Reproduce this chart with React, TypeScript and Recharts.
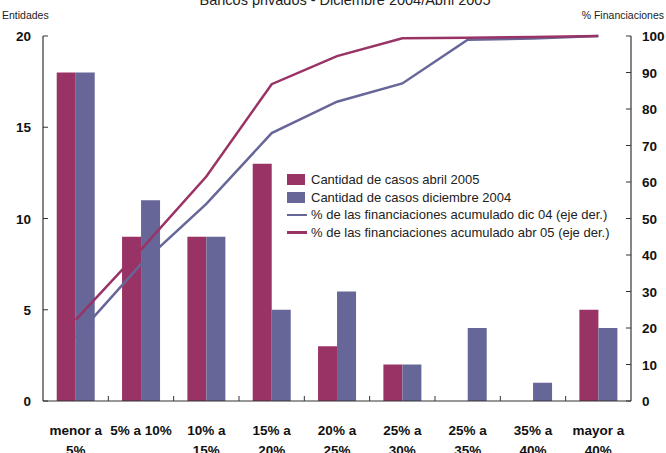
import React from 'react';
import { ComposedChart, Bar, Line, XAxis, YAxis } from 'recharts';

const CATEGORIES = [
  'menor a\n5%',
  '5% a 10%',
  '10% a\n15%',
  '15% a\n20%',
  '20% a\n25%',
  '25% a\n30%',
  '25% a\n35%',
  '35% a\n40%',
  'mayor a\n40%',
];
const CASOS_ABR05 = [18, 9, 9, 13, 3, 2, 0, 0, 5];
const CASOS_DIC04 = [18, 11, 9, 5, 6, 2, 4, 1, 4];
const ACUM_DIC04 = [17.5, 37.5, 54, 73.4, 82, 87, 99, 99.3, 100];
const ACUM_ABR05 = [22.2, 41.5, 61.5, 86.8, 94.5, 99.4, 99.5, 99.7, 100];
const LEFT_TICKS = [0, 5, 10, 15, 20];
const RIGHT_TICKS = [0, 10, 20, 30, 40, 50, 60, 70, 80, 90, 100];

const NAME_ABR = 'Cantidad de casos abril 2005';
const NAME_DIC = 'Cantidad de casos diciembre 2004';
const NAME_ACUM_DIC = '% de las financiaciones acumulado dic 04 (eje der.)';
const NAME_ACUM_ABR = '% de las financiaciones acumulado abr 05 (eje der.)';

const data = CATEGORIES.map((cat, i) => ({
  cat,
  abr: CASOS_ABR05[i],
  dic: CASOS_DIC04[i],
  acumDic: ACUM_DIC04[i],
  acumAbr: ACUM_ABR05[i],
}));

const RED = '#993366';
const BLUE = '#666699';
const AXIS = '#333';
const W = 666;
const H = 453;
const LEFT_W = 43;
const RIGHT_W = 35;
const HALF_BAND = (W - LEFT_W - RIGHT_W) / CATEGORIES.length / 2;

const tickFont = { fontFamily: 'Liberation Sans, Arial, sans-serif', fontSize: 13.5, fontWeight: 700, fill: '#111' };

const LeftTick = (props: any) => {
  const { x, y, payload } = props;
  return (
    <g>
      <line x1={x} y1={y} x2={x + 5} y2={y} stroke={AXIS} />
      <text x={x - 12} y={y + 5} textAnchor="end" {...tickFont}>{payload.value}</text>
    </g>
  );
};

const RightTick = (props: any) => {
  const { x, y, payload } = props;
  return (
    <g>
      <line x1={x - 5} y1={y} x2={x} y2={y} stroke={AXIS} />
      <text x={x + 11} y={y + 5} textAnchor="start" {...tickFont}>{payload.value}</text>
    </g>
  );
};

const BottomTick = (props: any) => {
  const { x, y, payload, index } = props;
  const lines = String(payload.value).split('\n');
  return (
    <g>
      {index > 0 && <line x1={x - HALF_BAND} y1={y} x2={x - HALF_BAND} y2={y - 5} stroke={AXIS} />}
      {lines.map((l, i) => (
        <text key={i} x={x} y={y + 34 + i * 20} textAnchor="middle" {...tickFont}>{l}</text>
      ))}
    </g>
  );
};

const legendItems = [
  { kind: 'bar', color: RED, label: NAME_ABR },
  { kind: 'bar', color: BLUE, label: NAME_DIC },
  { kind: 'line', color: BLUE, label: NAME_ACUM_DIC },
  { kind: 'line', color: RED, label: NAME_ACUM_ABR },
];

export default function App() {
  return (
    <div style={{ position: 'absolute', left: 0, top: 0, width: W, height: H, background: '#fff', overflow: 'hidden', fontFamily: 'Liberation Sans, Arial, sans-serif' }}>
      <div style={{ position: 'absolute', left: 0, width: W, top: -8, textAlign: 'center', fontSize: 14.5, color: '#222', paddingLeft: 24, boxSizing: 'border-box' }}>
        Bancos privados - Diciembre 2004/Abril 2005
      </div>
      <div style={{ position: 'absolute', left: 2, top: 9, fontSize: 10.5, color: '#222' }}>Entidades</div>
      <div style={{ position: 'absolute', right: 2, top: 9, fontSize: 10.5, color: '#222' }}>% Financiaciones</div>
      <ComposedChart
        width={W}
        height={H}
        data={data}
        margin={{ top: 36, right: 0, left: 0, bottom: 0 }}
        barCategoryGap="21%"
        barGap={0}
      >
        <XAxis
          dataKey="cat"
          height={52}
          interval={0}
          tickLine={false}
          tickSize={0}
          tickMargin={0}
          axisLine={{ stroke: AXIS, strokeWidth: 1.2 }}
          tick={<BottomTick />}
        />
        <YAxis
          yAxisId="left"
          width={LEFT_W}
          domain={[0, 20]}
          ticks={LEFT_TICKS}
          tickLine={false}
          tickSize={0}
          tickMargin={0}
          axisLine={{ stroke: AXIS, strokeWidth: 1.2 }}
          tick={<LeftTick />}
        />
        <YAxis
          yAxisId="right"
          orientation="right"
          width={RIGHT_W}
          domain={[0, 100]}
          ticks={RIGHT_TICKS}
          tickLine={false}
          tickSize={0}
          tickMargin={0}
          axisLine={{ stroke: AXIS, strokeWidth: 1.2 }}
          tick={<RightTick />}
        />
        <Bar yAxisId="left" dataKey="abr" name={NAME_ABR} fill={RED} isAnimationActive={false} />
        <Bar yAxisId="left" dataKey="dic" name={NAME_DIC} fill={BLUE} isAnimationActive={false} />
        <Line yAxisId="right" dataKey="acumDic" name={NAME_ACUM_DIC} stroke={BLUE} strokeWidth={2.5} dot={false} type="linear" isAnimationActive={false} />
        <Line yAxisId="right" dataKey="acumAbr" name={NAME_ACUM_ABR} stroke={RED} strokeWidth={2.5} dot={false} type="linear" isAnimationActive={false} />
      </ComposedChart>
      <div style={{ position: 'absolute', left: 287, top: 171, fontSize: 13, color: '#222', lineHeight: '17.6px' }}>
        {legendItems.map((it) => (
          <div key={it.label} style={{ display: 'flex', alignItems: 'center', height: 17.6 }}>
            {it.kind === 'bar' ? (
              <span style={{ display: 'inline-block', width: 18, height: 11, background: it.color, marginRight: 6 }} />
            ) : (
              <span style={{ display: 'inline-block', width: 20, height: 2.5, background: it.color, marginRight: 4 }} />
            )}
            <span>{it.label}</span>
          </div>
        ))}
      </div>
    </div>
  );
}
